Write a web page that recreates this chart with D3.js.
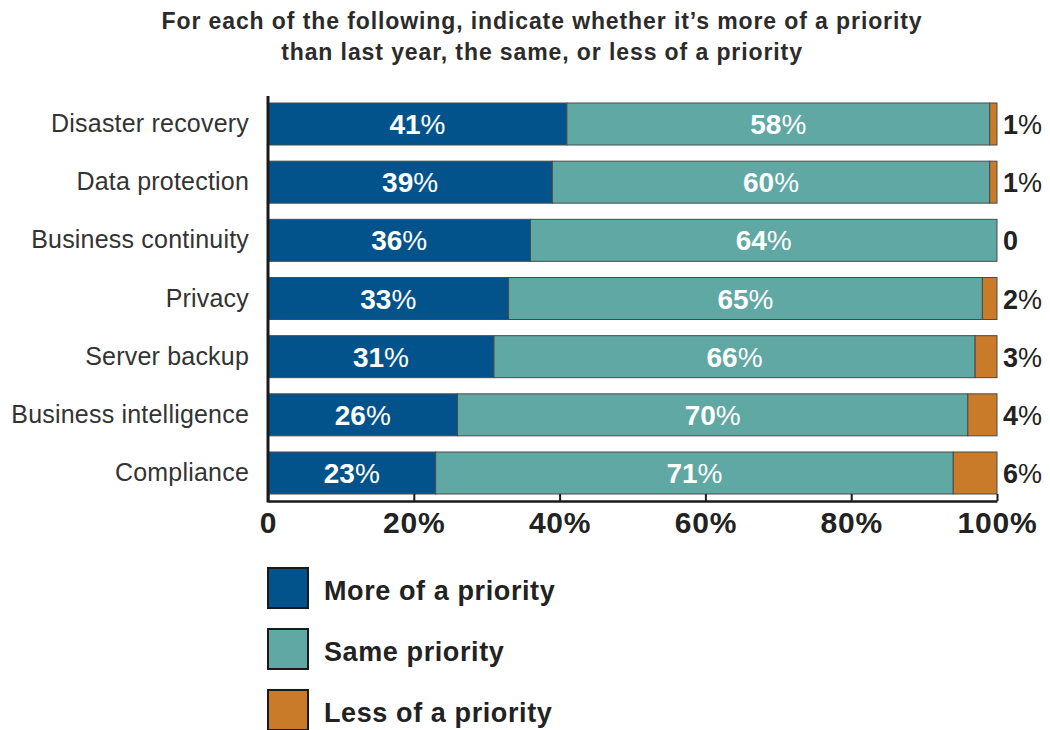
<!DOCTYPE html>
<html><head><meta charset="utf-8">
<script src="https://cdnjs.cloudflare.com/ajax/libs/d3/7.8.5/d3.min.js"></script>
<style>
body{margin:0;background:#fff;}
svg{display:block;font-family:"Liberation Sans",Arial,sans-serif;}
</style></head>
<body><svg id="c" width="1050" height="730"></svg>
<script>
const categories = ["Disaster recovery","Data protection","Business continuity","Privacy","Server backup","Business intelligence","Compliance"];
const moreValues = [41,39,36,33,31,26,23];
const sameValues = [58,60,64,65,66,70,71];
const lessValues = [1,1,0,2,3,4,6];
const seriesNames = ["More of a priority","Same priority","Less of a priority"];
const seriesColors = ["#02538b","#5fa8a3","#c97b2a"];
const tickValues = [0,20,40,60,80,100];
const titleLines = ["For each of the following, indicate whether it\u2019s more of a priority","than last year, the same, or less of a priority"];

const svg = d3.select("#c");
const x0 = 268, x1 = 997;
const x = d3.scaleLinear().domain([0,100]).range([x0,x1]);
const yPos = d3.scaleLinear().domain([0,categories.length-1]).range([103,452]);
const barH = 42;

const rows = categories.map((c,i)=>({cat:c, vals:[moreValues[i],sameValues[i],lessValues[i]]}));

// title
svg.append("g").selectAll("text").data(titleLines).join("text")
  .attr("x",542).attr("y",(d,i)=>29+i*31)
  .attr("text-anchor","middle").attr("font-size",23).attr("font-weight","bold").attr("fill","#2b2b2b")
  .attr("letter-spacing",0.9)
  .text(d=>d);

const g = svg.append("g");
rows.forEach((r,i)=>{
  let cum = 0;
  const yy = yPos(i);
  r.vals.forEach((v,k)=>{
    if(v>0){
      g.append("rect").attr("x",x(cum)).attr("y",yy).attr("width",x(cum+v)-x(cum)).attr("height",barH)
        .attr("fill",seriesColors[k]).attr("stroke","#4a4a4a").attr("stroke-width",1);
    }
    if(k<2){
      const t = g.append("text").attr("x",(x(cum)+x(cum+v))/2).attr("y",yy+barH/2+10)
        .attr("text-anchor","middle").attr("fill","#fff").attr("font-size",28);
      t.append("tspan").attr("font-weight","bold").text(v);
      t.append("tspan").attr("font-weight","normal").text("%");
    } else {
      const t = g.append("text").attr("x",x1+6).attr("y",yy+barH/2+10)
        .attr("fill","#222").attr("font-size",27);
      t.append("tspan").attr("font-weight","bold").text(v);
      if(v>0) t.append("tspan").attr("font-weight","normal").text("%");
    }
    cum += v;
  });
  g.append("text").attr("x",249).attr("y",yy+barH/2+8).attr("text-anchor","end")
    .attr("font-size",25).attr("fill","#333").attr("letter-spacing",0.2).text(r.cat);
});

// axis
const axisY = 501;
const ax = svg.append("g").attr("transform",`translate(0,${axisY})`)
  .call(d3.axisBottom(x).tickValues(tickValues).tickSizeInner(-7).tickSizeOuter(0).tickPadding(26)
    .tickFormat(d=>d===0?"0":d+"%"));
ax.select(".domain").attr("stroke","#1a1a1a").attr("stroke-width",2.5);
ax.selectAll(".tick line").attr("stroke","#1a1a1a").attr("stroke-width",2);
ax.selectAll(".tick text").attr("font-size",30).attr("font-weight","bold").attr("fill","#222")
  .attr("letter-spacing",0.8)
  .attr("font-family","Liberation Sans, Arial, sans-serif").attr("dy","0.2em");
// left vertical axis line
svg.append("line").attr("x1",x0).attr("x2",x0).attr("y1",96).attr("y2",axisY+1.5)
  .attr("stroke","#1a1a1a").attr("stroke-width",3);

// legend
const lg = svg.append("g").selectAll("g").data(seriesNames).join("g")
  .attr("transform",(d,i)=>`translate(268,${568+i*61})`);
lg.append("rect").attr("width",40).attr("height",40).attr("fill",(d,i)=>seriesColors[i])
  .attr("stroke","#1a1a1a").attr("stroke-width",2);
lg.append("text").attr("x",56).attr("y",32).attr("font-size",27).attr("font-weight","bold")
  .attr("fill","#222").attr("letter-spacing",0.6).text(d=>d);
</script></body></html>
